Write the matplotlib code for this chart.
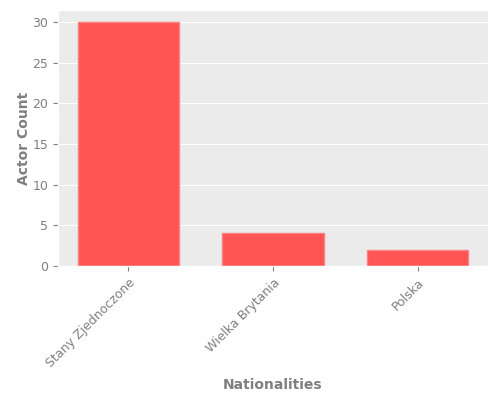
import matplotlib
matplotlib.use('Agg')
import matplotlib.pyplot as plt

plt.style.use('ggplot')

nationalities = ['Stany Zjednoczone', 'Wielka Brytania', 'Polska']
actor_counts = [30, 4, 2]

text_grey = '#7f7f7f'
fig, ax = plt.subplots(figsize=(5, 4), dpi=100)
fig.subplots_adjust(left=0.116, right=0.976, top=0.975, bottom=0.335)
ax.set_facecolor('#ebebeb')

ax.bar(range(len(nationalities)), actor_counts, width=0.7, color='#ff5555',
       edgecolor='#ff8080', linewidth=1)
ax.set_xticks(range(len(nationalities)))
ax.set_xticklabels(nationalities, rotation=45, ha='right', rotation_mode='anchor')
ax.tick_params(labelsize=9, colors=text_grey)
ax.grid(axis='x', visible=False)
ax.set_xlabel('Nationalities', fontweight='bold', fontsize=10, color=text_grey, labelpad=6)
ax.set_ylabel('Actor Count', fontweight='bold', fontsize=10, color=text_grey, labelpad=1)

fig.savefig('out.png', dpi=100)
